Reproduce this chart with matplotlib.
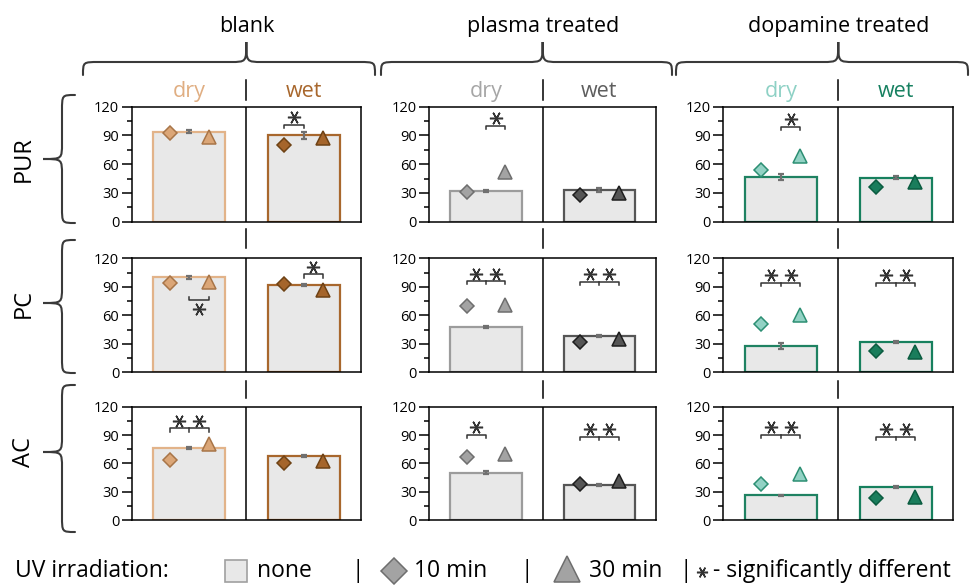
import numpy as np
import matplotlib.pyplot as plt
from matplotlib.path import Path
from matplotlib.patches import PathPatch
from matplotlib.ticker import MultipleLocator

plt.rcParams['font.family'] = ['Open Sans', 'DejaVu Sans']

# ---------- Data ----------
substrates = ["PUR", "PC", "AC"]
treatments = ["blank", "plasma treated", "dopamine treated"]
conditions = ["dry", "wet"]

# column order: blank dry, blank wet, plasma dry, plasma wet, dopamine dry, dopamine wet
none_mean = [[94, 90, 32, 33, 47, 46],
             [100, 92, 48, 38, 28, 32],
             [76, 68, 50, 37, 26, 35]]
none_err = [[1.5, 3.5, 1, 2, 3, 1.5],
            [1.5, 1, 1, 1, 3, 1],
            [1, 1, 1.5, 1, 1, 1]]
uv10 = [[93, 80, 31, 28, 54, 36],
        [94, 93, 70, 32, 51, 22],
        [64, 60, 67, 38, 38, 23]]
uv30 = [[88, 87, 52, 30, 69, 41],
        [95, 87, 71, 35, 60, 21],
        [80, 62, 70, 41, 49, 24]]

# significance: which pair ("10" = 10 min vs none, "30" = none vs 30 min, "both"),
# bracket level, and whether drawn below
sig_pair = [["", "10", "30", "", "30", ""],
            ["30", "30", "both", "both", "both", "both"],
            ["both", "", "10", "both", "both", "both"]]
sig_level = [[0, 101, 100, 0, 99, 0],
             [76, 103, 96, 95, 94, 94],
             [97, 0, 90, 88, 90, 88]]
sig_below = [[False] * 6,
             [True] + [False] * 5,
             [False] * 6]

# ---------- Colours ----------
title_col = ["#E0AE82", "#A8672D", "#A6A6A6", "#5E5E5E", "#8ED1C5", "#168060"]
bar_edge = ["#E2B389", "#A8672D", "#9C9C9C", "#565656", "#1F8262", "#17805E"]
mk_face = ["#DBA677", "#A5652B", "#A3A3A3", "#555555", "#92D2C4", "#1A7D5C"]
mk_edge = ["#A87548", "#6E4215", "#6E6E6E", "#1E1E1E", "#2C8F73", "#0B5C40"]
bar_face = "#E8E8E8"
err_col = "#707070"

# ---------- Layout (pixels) ----------
W, H = 971, 585
col_lr = [(131.7, 361.0), (429.3, 656.0), (723.3, 953.3)]
row_tb = [(106.7, 221.7), (258.3, 372.3), (406.7, 520.0)]
dx = 0.17

fig = plt.figure(figsize=(W / 100, H / 100), dpi=100)
ov = fig.add_axes([0, 0, 1, 1])
ov.set_xlim(0, W)
ov.set_ylim(H, 0)
ov.axis("off")


def brace(ax, a0, a1, am, v_end, v_arm, v_tip, vertical=False, r=16):
    pts = [(a0, v_end), (a0, v_arm), (a0, v_arm), (a0 + r, v_arm),
           (am - r, v_arm), (am, v_arm), (am, v_arm), (am, v_tip),
           (am, v_arm), (am, v_arm), (am + r, v_arm),
           (a1 - r, v_arm), (a1, v_arm), (a1, v_arm), (a1, v_end)]
    C = Path.CURVE4
    codes = [Path.MOVETO, C, C, C, Path.LINETO, C, C, C, C, C, C,
             Path.LINETO, C, C, C]
    if vertical:
        pts = [(v, a) for a, v in pts]
    ax.add_patch(PathPatch(Path(pts, codes), fill=False, ec="#3a3a3a",
                           lw=1.5, capstyle="round"))


def sig_bracket(ax, xc, kind, level, below):
    t = -3.5 if not below else 3.5
    if kind == "10":
        xs, stars = [xc - dx, xc], [xc - dx / 2]
    elif kind == "30":
        xs, stars = [xc, xc + dx], [xc + dx / 2]
    else:
        xs, stars = [xc - dx, xc + dx], [xc - dx / 2, xc + dx / 2]
    ax.plot([xs[0], xs[0], xs[1], xs[1]], [level + t, level, level, level + t],
            color="#333333", lw=1.1, zorder=5, clip_on=False)
    if kind == "both":
        ax.plot([xc, xc], [level, level + t], color="#333333", lw=1.1,
                zorder=5, clip_on=False)
    sy = level + 8 if not below else level - 9
    ax.plot(stars, [sy] * len(stars), ls="none", marker=(6, 2, 90), ms=9.5,
            mew=1.1, color="#333333", zorder=5, clip_on=False)


# ---------- Panels ----------
for i, sub in enumerate(substrates):
    top, bot = row_tb[i]
    for j, tr in enumerate(treatments):
        left, right = col_lr[j]
        ax = fig.add_axes([left / W, 1 - bot / H, (right - left) / W, (bot - top) / H])
        ax.set_xlim(0, 2)
        ax.set_ylim(0, 120)
        for s in ax.spines.values():
            s.set_linewidth(1.1)
        ax.set_xticks([])
        ax.yaxis.set_major_locator(MultipleLocator(30))
        ax.yaxis.set_minor_locator(MultipleLocator(15))
        ax.tick_params(axis="y", which="major", length=7, width=1.1, pad=2,
                       labelsize=10.5)
        ax.tick_params(axis="y", which="minor", length=3.6, width=1.1)
        ax.axvline(1, color="k", lw=1.1)
        for k, cond in enumerate(conditions):
            c = 2 * j + k
            xc = 0.5 + k
            ax.bar(xc, none_mean[i][c], width=0.63, color=bar_face,
                   edgecolor=bar_edge[c], linewidth=1.6, zorder=2)
            ax.errorbar(xc, none_mean[i][c], yerr=none_err[i][c], fmt="none",
                        ecolor=err_col, elinewidth=1.6, capsize=2.5,
                        capthick=1.6, zorder=3)
            ax.plot(xc - dx, uv10[i][c], marker="D", ms=7.6, mfc=mk_face[c],
                    mec=mk_edge[c], mew=1.1, ls="none", zorder=4)
            ax.plot(xc + dx, uv30[i][c], marker="^", ms=10.5, mfc=mk_face[c],
                    mec=mk_edge[c], mew=1.1, ls="none", zorder=4)
            if sig_pair[i][c]:
                sig_bracket(ax, xc, sig_pair[i][c], sig_level[i][c], sig_below[i][c])
            if i == 0:
                xm = left + (right - left) * (0.25 + 0.5 * k)
                ov.text(xm, 97, cond, color=title_col[c], fontsize=15.5,
                        ha="center", va="baseline")

# divider stubs between rows / labels
for left, right in col_lr:
    xd = (left + right) / 2
    for y0, y1 in [(80, 100), (229, 248), (381, 398)]:
        ov.plot([xd, xd], [y0, y1], color="k", lw=1.1)

# group labels and braces
brace_ends = [(83, 375), (381, 672), (676, 968)]
for j, tr in enumerate(treatments):
    left, right = col_lr[j]
    xd = (left + right) / 2
    ov.text(xd, 32, tr, fontsize=15.5, ha="center", va="baseline")
    a0, a1 = brace_ends[j]
    brace(ov, a0, a1, xd, 75, 62, 42)

# row labels and braces
row_braces = [(95, 223, 159), (240, 373, 303), (385, 532, 452)]
for i, sub in enumerate(substrates):
    a0, a1, am = row_braces[i]
    brace(ov, a0, a1, am, 75, 62, 43, vertical=True)
    ov.text(24, am, sub, fontsize=17, rotation=90, ha="center", va="center")

# ---------- Legend ----------
ly = 571
fs = 16.5
ov.text(15, ly, "UV irradiation:", fontsize=fs, ha="left", va="center")
ov.plot(236, ly, marker="s", ms=16, mfc=bar_face, mec="#A0A0A0", mew=1.2)
ov.text(257, ly, "none", fontsize=fs, ha="left", va="center")
ov.text(358, ly, "|", fontsize=fs, ha="center", va="center")
ov.plot(394, ly, marker="D", ms=13, mfc="#A3A3A3", mec="#6E6E6E", mew=1.1)
ov.text(414, ly, "10 min", fontsize=fs, ha="left", va="center")
ov.text(527, ly, "|", fontsize=fs, ha="center", va="center")
ov.plot(567, ly - 2, marker="^", ms=19, mfc="#A3A3A3", mec="#6E6E6E", mew=1.1)
ov.text(589, ly, "30 min", fontsize=fs, ha="left", va="center")
ov.text(686, ly, "|", fontsize=fs, ha="center", va="center")
ov.plot(702, ly + 1, marker=(6, 2, 90), ms=8, mew=1.1, color="#333333")
ov.text(713, ly, "- significantly different", fontsize=fs, ha="left", va="center")

fig.savefig("out.png", dpi=100)
